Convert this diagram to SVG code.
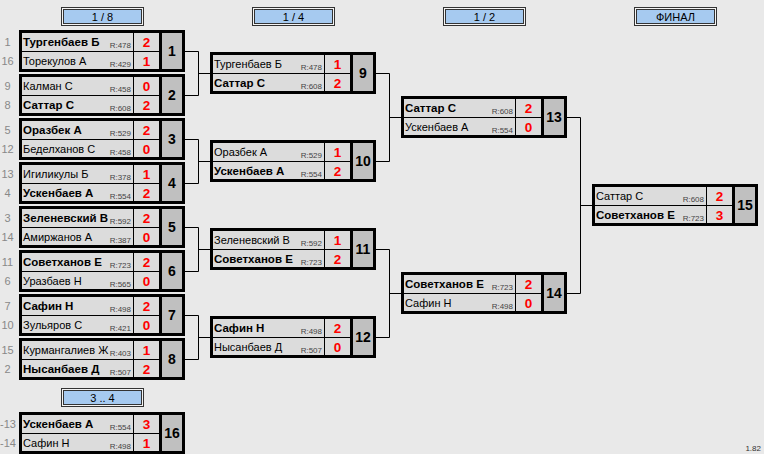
<svg xmlns="http://www.w3.org/2000/svg" xmlns:xlink="http://www.w3.org/1999/xlink" width="764" height="454" viewBox="0 0 764 454">
<style>
text{font-family:"Liberation Sans",Arial,sans-serif}
.nm{font-size:11px;fill:#000}
.b{font-weight:bold;font-size:11.5px}
.r{font-size:8px;fill:#444;text-anchor:end}
.sc{font-size:13.5px;font-weight:bold;fill:#f00;text-anchor:middle}
.no{font-size:14px;font-weight:bold;fill:#000;text-anchor:middle}
.sd{font-size:11px;fill:#888;text-anchor:middle}
.hd{font-size:11px;fill:#000;text-anchor:middle}
.cn{fill:none;stroke:#000;stroke-width:1}
</style>
<defs>
<g id="frame">
<rect x="1.5" y="1.5" width="163" height="39" fill="#dcdcdc"/>
<rect x="141" y="3" width="22" height="36" fill="#c0c0c0"/>
<line x1="114.5" y1="3" x2="114.5" y2="39" stroke="#000" stroke-width="1"/>
<line x1="3" y1="21.5" x2="140" y2="21.5" stroke="#000" stroke-width="1"/>
<line x1="141.5" y1="3" x2="141.5" y2="39" stroke="#000" stroke-width="3"/>
<rect x="1.5" y="1.5" width="163" height="39" fill="none" stroke="#000" stroke-width="3"/>
</g>
<g id="hdr">
<rect x="0.5" y="0.5" width="82" height="18" fill="#f4f4f4" stroke="#333"/>
<rect x="2.5" y="2.5" width="78" height="14" fill="#a6caf0" stroke="#333"/>
</g>
</defs>
<rect x="0" y="0" width="764" height="454" fill="#e9e9e9"/>

<g id="headers">
<g id="h18" transform="translate(61,7)"><use xlink:href="#hdr"/><text class="hd" x="41.5" y="14">1 / 8</text></g>
<g id="h14" transform="translate(252,7)"><use xlink:href="#hdr"/><text class="hd" x="41.5" y="14">1 / 4</text></g>
<g id="h12" transform="translate(443,7)"><use xlink:href="#hdr"/><text class="hd" x="41.5" y="14">1 / 2</text></g>
<g id="hfin" transform="translate(634,7)"><use xlink:href="#hdr"/><text class="hd" x="41.5" y="14">ФИНАЛ</text></g>
<g id="h34" transform="translate(61,388)"><use xlink:href="#hdr"/><text class="hd" x="41.5" y="14">3 .. 4</text></g>
</g>

<g id="connectors" class="cn">
<path class="cn" d="M185 51.5H198.5V95.5H185M198.5 73.5H210"/>
<path class="cn" d="M185 139.5H198.5V183.5H185M198.5 161.5H210"/>
<path class="cn" d="M185 227.5H198.5V271.5H185M198.5 249.5H210"/>
<path class="cn" d="M185 315.5H198.5V359.5H185M198.5 337.5H210"/>
<path class="cn" d="M376 73.5H389.5V161.5H376M389.5 117.5H401"/>
<path class="cn" d="M376 249.5H389.5V337.5H376M389.5 293.5H401"/>
<path class="cn" d="M567 117.5H580.5V293.5H567M580.5 205.5H592"/>
</g>

<g id="m1" transform="translate(19,30)"><use xlink:href="#frame"/>
<text class="sd" x="-11.5" y="16">1</text><text class="sd" x="-11.5" y="35">16</text>
<text class="nm b" x="4" y="16">Тургенбаев Б</text><text class="r" x="112" y="18">R:478</text><text class="sc" x="127.5" y="17">2</text>
<text class="nm" x="4" y="35">Торекулов А</text><text class="r" x="112" y="37">R:429</text><text class="sc" x="127.5" y="36">1</text>
<text class="no" x="153" y="26">1</text></g>

<g id="m2" transform="translate(19,74)"><use xlink:href="#frame"/>
<text class="sd" x="-11.5" y="16">9</text><text class="sd" x="-11.5" y="35">8</text>
<text class="nm" x="4" y="16">Калман С</text><text class="r" x="112" y="18">R:458</text><text class="sc" x="127.5" y="17">0</text>
<text class="nm b" x="4" y="35">Саттар С</text><text class="r" x="112" y="37">R:608</text><text class="sc" x="127.5" y="36">2</text>
<text class="no" x="153" y="26">2</text></g>

<g id="m3" transform="translate(19,118)"><use xlink:href="#frame"/>
<text class="sd" x="-11.5" y="16">5</text><text class="sd" x="-11.5" y="35">12</text>
<text class="nm b" x="4" y="16">Оразбек А</text><text class="r" x="112" y="18">R:529</text><text class="sc" x="127.5" y="17">2</text>
<text class="nm" x="4" y="35">Беделханов С</text><text class="r" x="112" y="37">R:458</text><text class="sc" x="127.5" y="36">0</text>
<text class="no" x="153" y="26">3</text></g>

<g id="m4" transform="translate(19,162)"><use xlink:href="#frame"/>
<text class="sd" x="-11.5" y="16">13</text><text class="sd" x="-11.5" y="35">4</text>
<text class="nm" x="4" y="16">Игиликулы Б</text><text class="r" x="112" y="18">R:378</text><text class="sc" x="127.5" y="17">1</text>
<text class="nm b" x="4" y="35">Ускенбаев А</text><text class="r" x="112" y="37">R:554</text><text class="sc" x="127.5" y="36">2</text>
<text class="no" x="153" y="26">4</text></g>

<g id="m5" transform="translate(19,206)"><use xlink:href="#frame"/>
<text class="sd" x="-11.5" y="16">3</text><text class="sd" x="-11.5" y="35">14</text>
<text class="nm b" x="4" y="16">Зеленевский В</text><text class="r" x="112" y="18">R:592</text><text class="sc" x="127.5" y="17">2</text>
<text class="nm" x="4" y="35">Амиржанов А</text><text class="r" x="112" y="37">R:387</text><text class="sc" x="127.5" y="36">0</text>
<text class="no" x="153" y="26">5</text></g>

<g id="m6" transform="translate(19,250)"><use xlink:href="#frame"/>
<text class="sd" x="-11.5" y="16">11</text><text class="sd" x="-11.5" y="35">6</text>
<text class="nm b" x="4" y="16">Советханов Е</text><text class="r" x="112" y="18">R:723</text><text class="sc" x="127.5" y="17">2</text>
<text class="nm" x="4" y="35">Уразбаев Н</text><text class="r" x="112" y="37">R:565</text><text class="sc" x="127.5" y="36">0</text>
<text class="no" x="153" y="26">6</text></g>

<g id="m7" transform="translate(19,294)"><use xlink:href="#frame"/>
<text class="sd" x="-11.5" y="16">7</text><text class="sd" x="-11.5" y="35">10</text>
<text class="nm b" x="4" y="16">Сафин Н</text><text class="r" x="112" y="18">R:498</text><text class="sc" x="127.5" y="17">2</text>
<text class="nm" x="4" y="35">Зульяров С</text><text class="r" x="112" y="37">R:421</text><text class="sc" x="127.5" y="36">0</text>
<text class="no" x="153" y="26">7</text></g>

<g id="m8" transform="translate(19,338)"><use xlink:href="#frame"/>
<text class="sd" x="-11.5" y="16">15</text><text class="sd" x="-11.5" y="35">2</text>
<text class="nm" x="4" y="16">Курмангалиев Ж</text><text class="r" x="112" y="18">R:403</text><text class="sc" x="127.5" y="17">1</text>
<text class="nm b" x="4" y="35">Нысанбаев Д</text><text class="r" x="112" y="37">R:507</text><text class="sc" x="127.5" y="36">2</text>
<text class="no" x="153" y="26">8</text></g>

<g id="m9" transform="translate(210,52)"><use xlink:href="#frame"/>
<text class="nm" x="4" y="16">Тургенбаев Б</text><text class="r" x="112" y="18">R:478</text><text class="sc" x="127.5" y="17">1</text>
<text class="nm b" x="4" y="35">Саттар С</text><text class="r" x="112" y="37">R:608</text><text class="sc" x="127.5" y="36">2</text>
<text class="no" x="153" y="26">9</text></g>

<g id="m10" transform="translate(210,140)"><use xlink:href="#frame"/>
<text class="nm" x="4" y="16">Оразбек А</text><text class="r" x="112" y="18">R:529</text><text class="sc" x="127.5" y="17">1</text>
<text class="nm b" x="4" y="35">Ускенбаев А</text><text class="r" x="112" y="37">R:554</text><text class="sc" x="127.5" y="36">2</text>
<text class="no" x="153" y="26">10</text></g>

<g id="m11" transform="translate(210,228)"><use xlink:href="#frame"/>
<text class="nm" x="4" y="16">Зеленевский В</text><text class="r" x="112" y="18">R:592</text><text class="sc" x="127.5" y="17">1</text>
<text class="nm b" x="4" y="35">Советханов Е</text><text class="r" x="112" y="37">R:723</text><text class="sc" x="127.5" y="36">2</text>
<text class="no" x="153" y="26">11</text></g>

<g id="m12" transform="translate(210,316)"><use xlink:href="#frame"/>
<text class="nm b" x="4" y="16">Сафин Н</text><text class="r" x="112" y="18">R:498</text><text class="sc" x="127.5" y="17">2</text>
<text class="nm" x="4" y="35">Нысанбаев Д</text><text class="r" x="112" y="37">R:507</text><text class="sc" x="127.5" y="36">0</text>
<text class="no" x="153" y="26">12</text></g>

<g id="m13" transform="translate(401,96)"><use xlink:href="#frame"/>
<text class="nm b" x="4" y="16">Саттар С</text><text class="r" x="112" y="18">R:608</text><text class="sc" x="127.5" y="17">2</text>
<text class="nm" x="4" y="35">Ускенбаев А</text><text class="r" x="112" y="37">R:554</text><text class="sc" x="127.5" y="36">0</text>
<text class="no" x="153" y="26">13</text></g>

<g id="m14" transform="translate(401,272)"><use xlink:href="#frame"/>
<text class="nm b" x="4" y="16">Советханов Е</text><text class="r" x="112" y="18">R:723</text><text class="sc" x="127.5" y="17">2</text>
<text class="nm" x="4" y="35">Сафин Н</text><text class="r" x="112" y="37">R:498</text><text class="sc" x="127.5" y="36">0</text>
<text class="no" x="153" y="26">14</text></g>

<g id="m15" transform="translate(592,184)"><use xlink:href="#frame"/>
<text class="nm" x="4" y="16">Саттар С</text><text class="r" x="112" y="18">R:608</text><text class="sc" x="127.5" y="17">2</text>
<text class="nm b" x="4" y="35">Советханов Е</text><text class="r" x="112" y="37">R:723</text><text class="sc" x="127.5" y="36">3</text>
<text class="no" x="153" y="26">15</text></g>

<g id="m16" transform="translate(19,412)"><use xlink:href="#frame"/>
<text class="sd" x="-11" y="16">-13</text><text class="sd" x="-11" y="35">-14</text>
<text class="nm b" x="4" y="16">Ускенбаев А</text><text class="r" x="112" y="18">R:554</text><text class="sc" x="127.5" y="17">3</text>
<text class="nm" x="4" y="35">Сафин Н</text><text class="r" x="112" y="37">R:498</text><text class="sc" x="127.5" y="36">1</text>
<text class="no" x="153" y="26">16</text></g>

<text x="761" y="451" style="font-size:8px;fill:#333;text-anchor:end">1.82</text>
</svg>
